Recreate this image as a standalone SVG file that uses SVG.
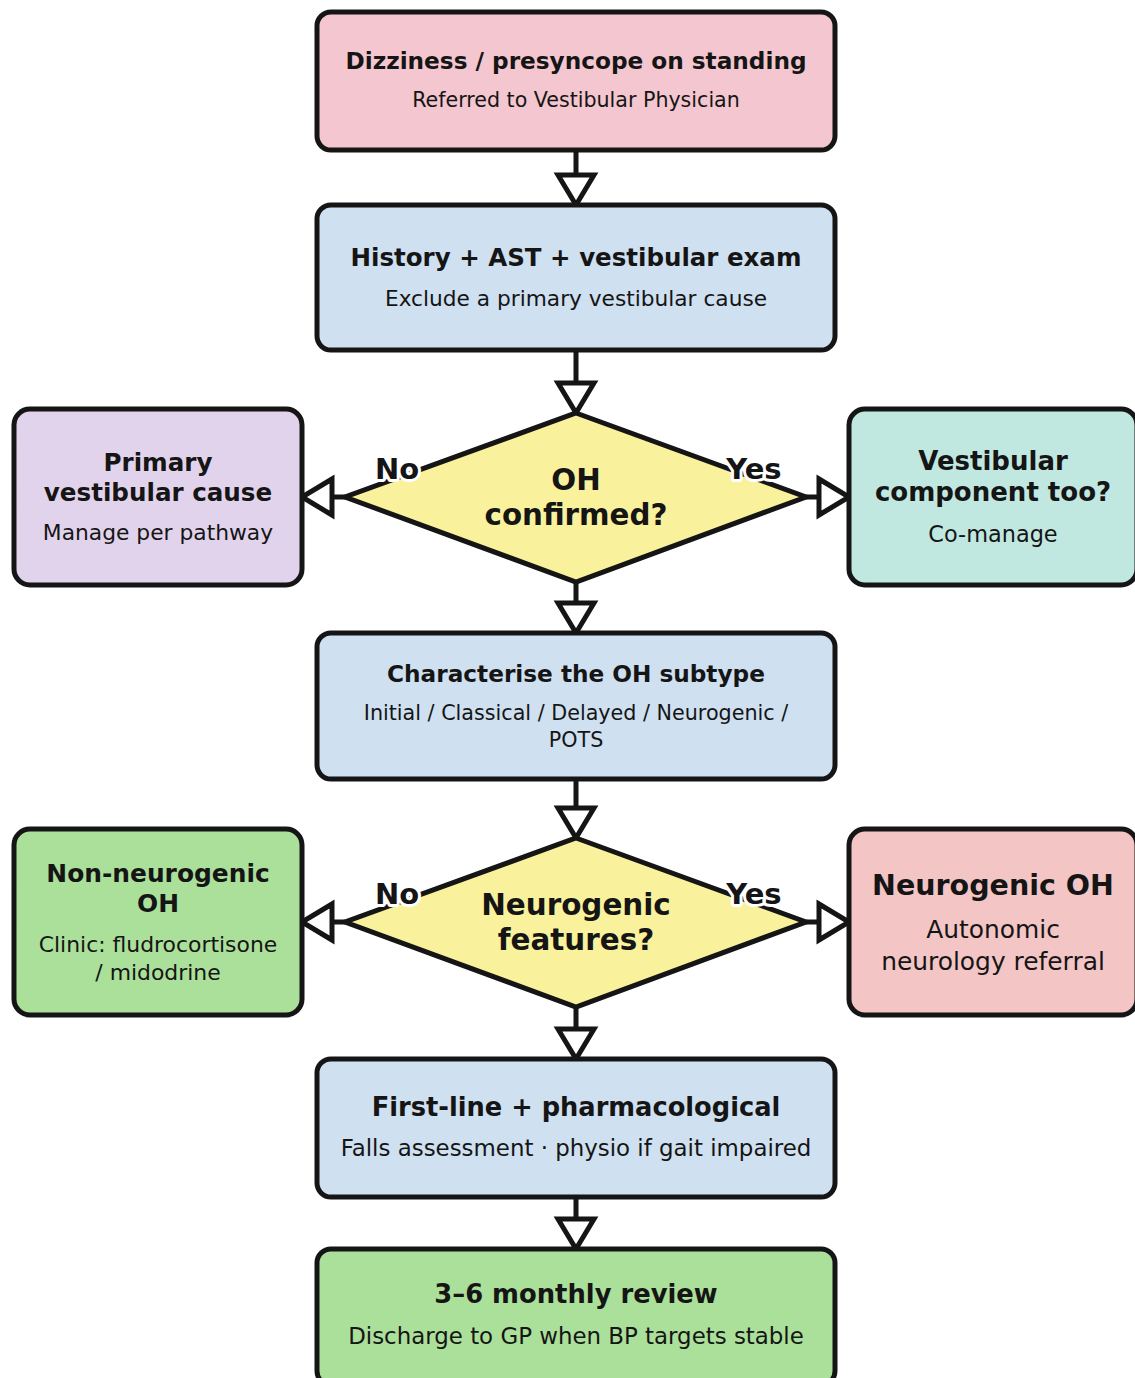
<svg xmlns="http://www.w3.org/2000/svg" width="1135" height="1378" viewBox="0 0 1135 1378">
<style>
.box{stroke:#151515;stroke-width:5}
.t{font-family:"DejaVu Sans",sans-serif;fill:#151515;text-anchor:middle;dominant-baseline:central}
.b{font-weight:bold}
.lbl{font-family:"DejaVu Sans",sans-serif;font-weight:bold;font-size:29px;fill:#151515;text-anchor:middle;dominant-baseline:central;stroke:#fff;stroke-width:6;paint-order:stroke;stroke-linejoin:round}
.c{stroke:#151515;stroke-width:5;fill:none;marker-end:url(#ah)}
</style>
<defs>
<marker id="ah" markerUnits="userSpaceOnUse" markerWidth="40" markerHeight="44" refX="30" refY="18" orient="auto" overflow="visible">
<path d="M0,0 L30,18 L0,36 z" fill="#fff" stroke="#151515" stroke-width="5" stroke-linejoin="miter"/>
</marker>
</defs>
<rect width="1135" height="1378" fill="#fff"/>
<g id="connectors">
<path class="c" d="M576,150 V205"/>
<path class="c" d="M576,350 V413"/>
<path class="c" d="M345,497 H302"/>
<path class="c" d="M806,497 H849"/>
<path class="c" d="M576,582 V633"/>
<path class="c" d="M576,779 V838"/>
<path class="c" d="M345,922 H302"/>
<path class="c" d="M806,922 H849"/>
<path class="c" d="M576,1007 V1059"/>
<path class="c" d="M576,1197 V1249"/>
</g>
<g id="n1">
<rect class="box" x="317" y="12" width="518" height="138" rx="14" fill="#f4c6cf"/>
<text class="t b" x="576" y="60" font-size="23.2">Dizziness / presyncope on standing</text>
<text class="t" x="576" y="100" font-size="20.6">Referred to Vestibular Physician</text>
</g>
<g id="n2">
<rect class="box" x="317" y="205" width="518" height="145" rx="14" fill="#cfe0f1"/>
<text class="t b" x="576" y="257" font-size="24.5">History + AST + vestibular exam</text>
<text class="t" x="576" y="298" font-size="21.7">Exclude a primary vestibular cause</text>
</g>
<g id="d1">
<polygon class="box" points="576,413 806,497 576,582 345,497" fill="#f9f19b"/>
<text class="t b" x="576" y="480" font-size="29.3">OH</text>
<text class="t b" x="576" y="515" font-size="29.3">confirmed?</text>
</g>
<g id="n_left1">
<rect class="box" x="14" y="409" width="288" height="176" rx="16" fill="#e2d3ec"/>
<text class="t b" x="158" y="462" font-size="24.6">Primary</text>
<text class="t b" x="158" y="492" font-size="24.6">vestibular cause</text>
<text class="t" x="158" y="532" font-size="21.8">Manage per pathway</text>
</g>
<g id="n_right1">
<rect class="box" x="849" y="409" width="288" height="176" rx="16" fill="#c0e8e0"/>
<text class="t b" x="993" y="461" font-size="26">Vestibular</text>
<text class="t b" x="993" y="492" font-size="26">component too?</text>
<text class="t" x="993" y="534" font-size="22.4">Co-manage</text>
</g>
<g id="n3">
<rect class="box" x="317" y="633" width="518" height="146" rx="14" fill="#cfe0f1"/>
<text class="t b" x="576" y="673" font-size="23.2">Characterise the OH subtype</text>
<text class="t" x="576" y="713" font-size="20.7">Initial / Classical / Delayed / Neurogenic /</text>
<text class="t" x="576" y="740" font-size="20.7">POTS</text>
</g>
<g id="d2">
<polygon class="box" points="576,838 806,922 576,1007 345,922" fill="#f9f19b"/>
<text class="t b" x="576" y="905" font-size="29.4">Neurogenic</text>
<text class="t b" x="576" y="940" font-size="29.4">features?</text>
</g>
<g id="n_left2">
<rect class="box" x="14" y="829" width="288" height="186" rx="16" fill="#abe09a"/>
<text class="t b" x="158" y="873" font-size="24.9">Non-neurogenic</text>
<text class="t b" x="158" y="903" font-size="24.9">OH</text>
<text class="t" x="158" y="944" font-size="21.9">Clinic: fludrocortisone</text>
<text class="t" x="158" y="972" font-size="21.9">/ midodrine</text>
</g>
<g id="n_right2">
<rect class="box" x="849" y="829" width="288" height="186" rx="16" fill="#f3c5c5"/>
<text class="t b" x="993" y="885" font-size="28.5">Neurogenic OH</text>
<text class="t" x="993" y="929" font-size="24.9">Autonomic</text>
<text class="t" x="993" y="961" font-size="24.9">neurology referral</text>
</g>
<g id="n4">
<rect class="box" x="317" y="1059" width="518" height="138" rx="14" fill="#cfe0f1"/>
<text class="t b" x="576" y="1107" font-size="25.7">First-line + pharmacological</text>
<text class="t" x="576" y="1148" font-size="22.9">Falls assessment · physio if gait impaired</text>
</g>
<g id="n5">
<rect class="box" x="317" y="1249" width="518" height="136" rx="14" fill="#abe09a"/>
<text class="t b" x="576" y="1294" font-size="25.8">3–6 monthly review</text>
<text class="t" x="576" y="1336" font-size="22.9">Discharge to GP when BP targets stable</text>
</g>
<g id="labels">
<text class="lbl" x="397" y="469">No</text>
<text class="lbl" x="754" y="469">Yes</text>
<text class="lbl" x="397" y="894">No</text>
<text class="lbl" x="754" y="894">Yes</text>
</g>
</svg>
